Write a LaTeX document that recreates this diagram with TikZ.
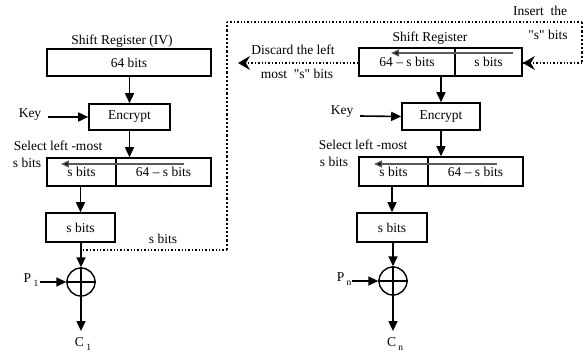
\documentclass[tikz,border=0pt]{standalone}
\usepackage{fontspec}
\setmainfont{Liberation Serif}
\newfontfamily\qfont{Liberation Serif}
\usetikzlibrary{arrows.meta}
\tikzset{
  blk/.style={draw, line width=1.6pt, inner sep=0pt, minimum height=27pt},
  flow/.style={line width=1.6pt, -{Triangle[length=10pt,width=9pt]}},
  inner/.style={line width=1.3pt, draw=black!65, -{Triangle[length=8pt,width=7pt,fill=black]}},
  fb/.style={line width=1.4pt, dotted},
  fbv/.style={line width=2.2pt, dotted},
  lbl/.style={inner sep=0pt},
  xorc/.style={circle, draw, line width=1.4pt, minimum size=28pt, inner sep=0pt}
}
\newcommand{\subl}[2]{#1\,\raisebox{-3.5pt}{\fontsize{9.5}{10}\selectfont #2}}
\newcommand{\dq}{{\qfont"}}
\begin{document}
\begin{tikzpicture}[x=1pt,y=-1pt, font=\fontsize{13.5}{15}\selectfont]
\useasboundingbox (0,0) rectangle (586,356);
% ---------------- left column ----------------
\node[lbl] (lsrt) at (122,41) {Shift Register (IV)};
\node[blk, minimum width=164pt] (lbox) at (129,62.5) {64 bits};
\node[blk, minimum width=81pt, minimum height=26pt] (lenc) at (129.5,117) {Encrypt};
\node[lbl] (lkey) at (30,115) {Key};
\coordinate (lkeyS) at (48,117);
\node[lbl] (lsel) at (58,146) {Select left -most};
\node[lbl] (lsel2) at (27,163) {s bits};
\node[blk, minimum width=69pt, minimum height=28pt] (lsa) at (81.5,172) {s bits};
\node[blk, minimum width=95pt, minimum height=28pt] (lsb) at (163.5,172) {64 -- s bits};
\node[blk, minimum width=69pt, minimum height=29pt] (ls) at (80.5,227.5) {s bits};
\node[xorc] (lx) at (81,282) {};
\draw[line width=1.4pt] (lx.north) -- (lx.south) (lx.west) -- (lx.east);
\node[lbl] (lp) at (31,280) {\subl{P}{1}};
\coordinate (lpS) at (40,282);
\coordinate (lcE) at (81,331);
\node[lbl] (lc) at (83,344) {\subl{C}{1}};
\coordinate (lin1) at (184,164);
\coordinate (lin2) at (61,164);

\draw[flow] (lbox.south -| lenc.north) -- (lenc.north);
\draw[flow] (lenc.south) -- (lenc.south |- lsb.north);
\draw[flow] (lkeyS) -- (lenc.west);
\draw[inner] (lin1) -- (lin2);
\draw[flow] (lsa.south -| ls.north) -- (ls.north);
\draw[flow] (ls.south -| lx.north) -- (lx.north);
\draw[flow] (lpS) -- (lx.west);
\draw[flow] (lx.south) -- (lcE);

% ---------------- right column ----------------
\node[lbl] (rsrt) at (430,38) {Shift Register};
\node[blk, minimum width=96pt, minimum height=28pt] (rba) at (407,62) {64 -- s bits};
\node[blk, minimum width=67pt, minimum height=28pt] (rbb) at (488.5,62) {s bits};
\node[blk, minimum width=78pt] (renc) at (441,116.5) {Encrypt};
\node[lbl] (rkey) at (342,112) {Key};
\coordinate (rkeyS) at (360,116);
\node[lbl] (rsel) at (363,145) {Select left -most};
\node[lbl] (rsel2) at (334,162) {s bits};
\node[blk, minimum width=69pt, minimum height=29pt] (rsa) at (393.5,171.5) {s bits};
\node[blk, minimum width=95pt, minimum height=29pt] (rsb) at (475.5,171.5) {64 -- s bits};
\node[blk, minimum width=70pt, minimum height=29pt] (rs) at (392,227.5) {s bits};
\node[xorc] (rx) at (393,281) {};
\draw[line width=1.4pt] (rx.north) -- (rx.south) (rx.west) -- (rx.east);
\node[lbl] (rp) at (344,279) {\subl{P}{n}};
\coordinate (rpS) at (352,281);
\coordinate (rcE) at (393,331);
\node[lbl] (rc) at (395,344) {\subl{C}{n}};
\coordinate (rin1) at (513,53);
\coordinate (rin2) at (391,53);
\coordinate (rin3) at (497,164);
\coordinate (rin4) at (374,164);

\draw[flow] (rba.south -| renc.north) -- (renc.north);
\draw[flow] (renc.south) -- (renc.south |- rsa.north);
\draw[flow] (rkeyS) -- (renc.west);
\draw[inner] (rin1) -- (rin2);
\draw[inner] (rin3) -- (rin4);
\draw[flow] (rsa.south -| rs.north) -- (rs.north);
\draw[flow] (rs.south -| rx.north) -- (rx.north);
\draw[flow] (rpS) -- (rx.west);
\draw[flow] (rx.south) -- (rcE);

% ---------------- feedback (dotted) ----------------
\coordinate (fb0) at (83,250);
\coordinate (fb1) at (227,250);
\coordinate (fb2) at (227,22);
\coordinate (fb3) at (582,22);
\coordinate (fb4) at (582,63);
\draw[fb] (fb0) -- (fb1);
\draw[fbv] (fb1) -- (fb2);
\draw[fb] (fb2) -- (fb3);
\draw[fbv] (fb3) -- (fb4);
\draw[fb] (fb4) -- (rbb.east |- fb4);
\fill (rbb.east |- fb4) -- ++(12,-7) -- ++(-4,7) -- ++(4,7) -- cycle;
\node[lbl] (fbl) at (163,239) {s bits};
\coordinate (disc) at (238,63);
\draw[fb] (rba.west |- disc) -- ++(-110,0);
\fill (disc) -- ++(12,-7) -- ++(-4,7) -- ++(4,7) -- cycle;
\node[lbl] (dt1) at (293,50) {Discard the left};
\node[lbl] (dt2) at (297,74) {most ~\dq s\dq{} bits};
\node[lbl] (it1) at (540,11) {Insert ~the};
\node[lbl] (it2) at (548,35) {\dq s\dq{} bits};
\end{tikzpicture}
\end{document}
